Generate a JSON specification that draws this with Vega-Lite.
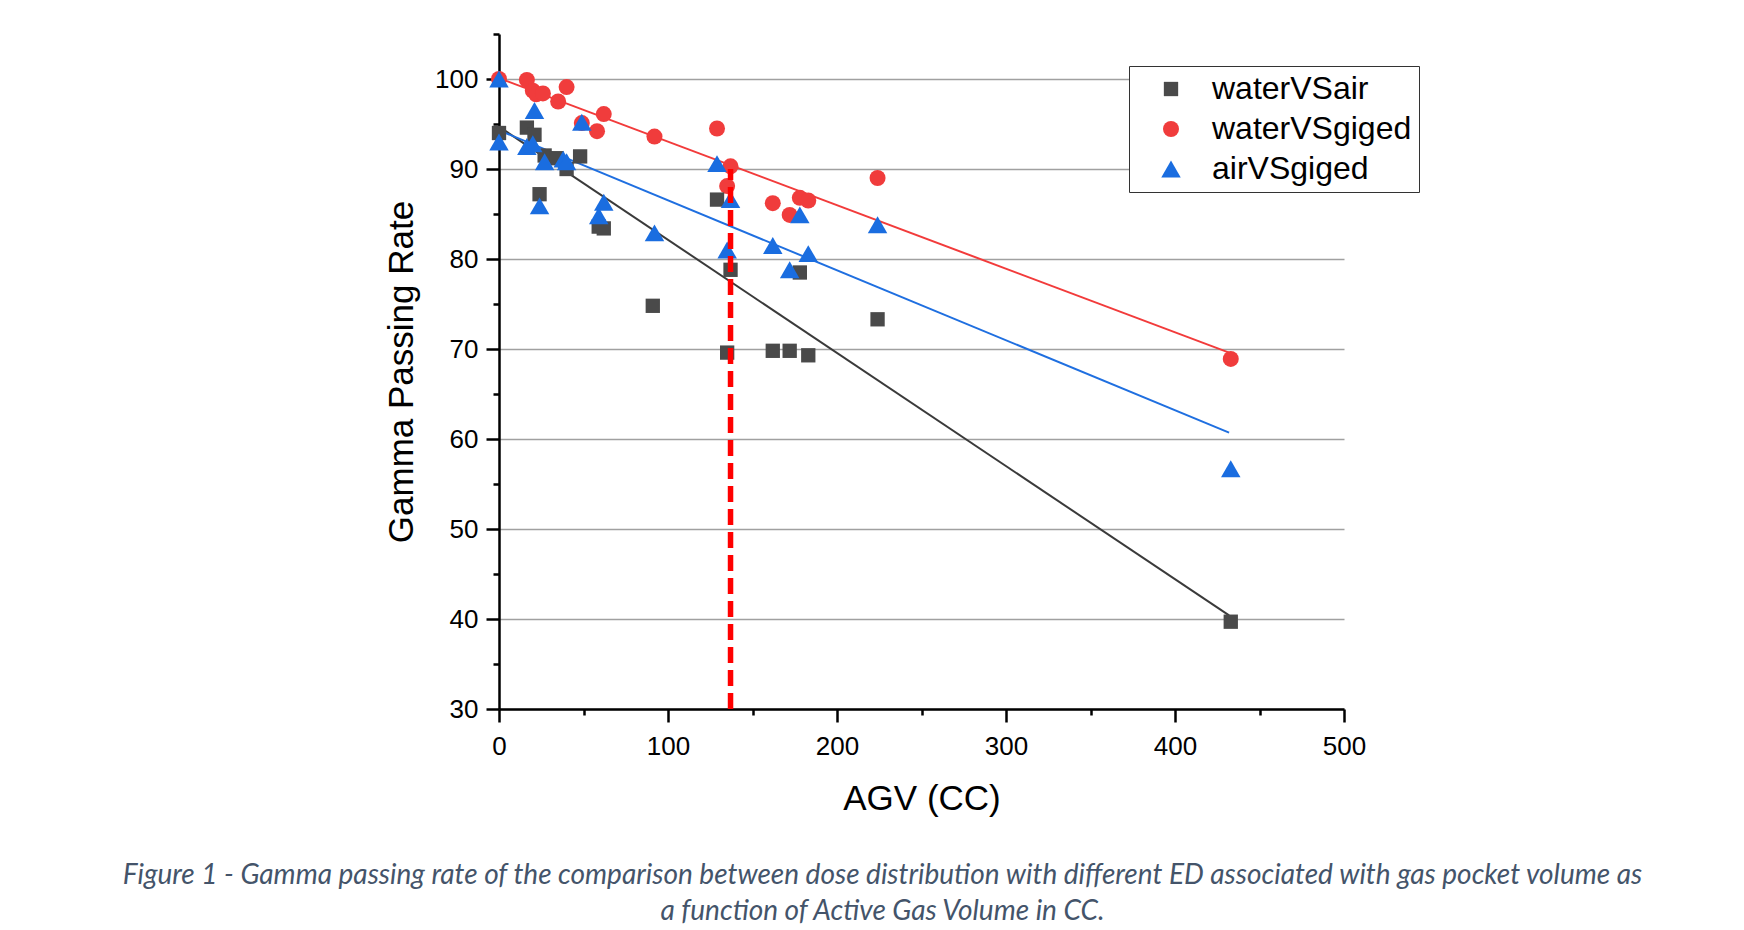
{
  "$schema": "https://vega.github.io/schema/vega-lite/v6.json",
  "autosize": {"type": "none"},
  "padding": {"left": 499, "top": 34, "right": 400, "bottom": 221},
  "width": 845,
  "height": 675,
  "background": "white",
  "config": {
    "view": {"stroke": null},
    "font": "Liberation Sans"
  },
  "title": {
    "text": [
      "Figure 1 - Gamma passing rate of the comparison between dose distribution with different ED associated with gas pocket volume as",
      "a function of Active Gas Volume in CC."
    ],
    "orient": "bottom",
    "anchor": "middle",
    "frame": "group",
    "dx": -39,
    "offset": 46,
    "font": "Lato",
    "fontStyle": "italic",
    "fontWeight": "normal",
    "fontSize": 28,
    "lineHeight": 36,
    "color": "#44546a"
  },
  "datasets": {
    "points": [
      {"series": "waterVSair", "agv": 0, "gpr": 94.0},
      {"series": "waterVSair", "agv": 16.5, "gpr": 94.6},
      {"series": "waterVSair", "agv": 21, "gpr": 93.8},
      {"series": "waterVSair", "agv": 24, "gpr": 87.2},
      {"series": "waterVSair", "agv": 27, "gpr": 91.5},
      {"series": "waterVSair", "agv": 34, "gpr": 91.2},
      {"series": "waterVSair", "agv": 40, "gpr": 90.0},
      {"series": "waterVSair", "agv": 48, "gpr": 91.4},
      {"series": "waterVSair", "agv": 59, "gpr": 83.6},
      {"series": "waterVSair", "agv": 62, "gpr": 83.4},
      {"series": "waterVSair", "agv": 91, "gpr": 74.8},
      {"series": "waterVSair", "agv": 129, "gpr": 86.6},
      {"series": "waterVSair", "agv": 135, "gpr": 69.6},
      {"series": "waterVSair", "agv": 137, "gpr": 78.8},
      {"series": "waterVSair", "agv": 162, "gpr": 69.8},
      {"series": "waterVSair", "agv": 172, "gpr": 69.8},
      {"series": "waterVSair", "agv": 178, "gpr": 78.5},
      {"series": "waterVSair", "agv": 183, "gpr": 69.3},
      {"series": "waterVSair", "agv": 224, "gpr": 73.3},
      {"series": "waterVSair", "agv": 433, "gpr": 39.7},
      {"series": "waterVSgiged", "agv": 0, "gpr": 100.0},
      {"series": "waterVSgiged", "agv": 16.5, "gpr": 99.9},
      {"series": "waterVSgiged", "agv": 20, "gpr": 98.7},
      {"series": "waterVSgiged", "agv": 22, "gpr": 98.3},
      {"series": "waterVSgiged", "agv": 26, "gpr": 98.4},
      {"series": "waterVSgiged", "agv": 35, "gpr": 97.5},
      {"series": "waterVSgiged", "agv": 40, "gpr": 99.1},
      {"series": "waterVSgiged", "agv": 49, "gpr": 95.1},
      {"series": "waterVSgiged", "agv": 58, "gpr": 94.2},
      {"series": "waterVSgiged", "agv": 62, "gpr": 96.1},
      {"series": "waterVSgiged", "agv": 92, "gpr": 93.6},
      {"series": "waterVSgiged", "agv": 129, "gpr": 94.5},
      {"series": "waterVSgiged", "agv": 135, "gpr": 88.1},
      {"series": "waterVSgiged", "agv": 137, "gpr": 90.3},
      {"series": "waterVSgiged", "agv": 162, "gpr": 86.2},
      {"series": "waterVSgiged", "agv": 172, "gpr": 84.9},
      {"series": "waterVSgiged", "agv": 178, "gpr": 86.8},
      {"series": "waterVSgiged", "agv": 183, "gpr": 86.5},
      {"series": "waterVSgiged", "agv": 224, "gpr": 89.0},
      {"series": "waterVSgiged", "agv": 433, "gpr": 68.9},
      {"series": "airVSgiged", "agv": 0, "gpr": 100.0},
      {"series": "airVSgiged", "agv": 0, "gpr": 93.0},
      {"series": "airVSgiged", "agv": 16.5, "gpr": 92.5},
      {"series": "airVSgiged", "agv": 20, "gpr": 92.8},
      {"series": "airVSgiged", "agv": 21, "gpr": 96.5},
      {"series": "airVSgiged", "agv": 24, "gpr": 85.9},
      {"series": "airVSgiged", "agv": 27, "gpr": 90.8},
      {"series": "airVSgiged", "agv": 38, "gpr": 91.1},
      {"series": "airVSgiged", "agv": 40, "gpr": 90.8},
      {"series": "airVSgiged", "agv": 49, "gpr": 95.2},
      {"series": "airVSgiged", "agv": 59, "gpr": 84.8},
      {"series": "airVSgiged", "agv": 62, "gpr": 86.3},
      {"series": "airVSgiged", "agv": 92, "gpr": 82.9},
      {"series": "airVSgiged", "agv": 129, "gpr": 90.6},
      {"series": "airVSgiged", "agv": 135, "gpr": 81.0},
      {"series": "airVSgiged", "agv": 137, "gpr": 86.6},
      {"series": "airVSgiged", "agv": 162, "gpr": 81.5},
      {"series": "airVSgiged", "agv": 172, "gpr": 78.8},
      {"series": "airVSgiged", "agv": 178, "gpr": 84.9},
      {"series": "airVSgiged", "agv": 183, "gpr": 80.6},
      {"series": "airVSgiged", "agv": 224, "gpr": 83.8},
      {"series": "airVSgiged", "agv": 433, "gpr": 56.7}
    ],
    "fits": [
      {"series": "waterVSair", "agv": 0, "gpr": 94.7},
      {"series": "waterVSair", "agv": 432, "gpr": 40.4},
      {"series": "waterVSgiged", "agv": 0, "gpr": 100.1},
      {"series": "waterVSgiged", "agv": 432, "gpr": 69.6},
      {"series": "airVSgiged", "agv": 0, "gpr": 94.3},
      {"series": "airVSgiged", "agv": 432, "gpr": 60.7}
    ],
    "cutoff": [
      {"agv": 137, "low": 30, "high": 90}
    ]
  },
  "resolve": {"axis": {"x": "independent", "y": "independent"}},
  "layer": [
    {
      "data": {"name": "cutoff"},
      "mark": {"type": "point", "opacity": 0},
      "encoding": {
        "x": {
          "field": "agv", "type": "quantitative",
          "scale": {"domain": [0, 500], "nice": false},
          "axis": {
            "orient": "bottom", "values": [50, 150, 250, 350, 450],
            "labels": false, "domain": false, "grid": false, "title": null,
            "tickSize": 6, "tickWidth": 2.5, "tickColor": "black"
          }
        },
        "y": {
          "field": "low", "type": "quantitative",
          "scale": {"domain": [30, 105], "nice": false, "zero": false},
          "axis": {
            "orient": "left", "values": [35, 45, 55, 65, 75, 85, 95, 105],
            "labels": false, "domain": false, "grid": false, "title": null,
            "tickSize": 6, "tickWidth": 2.5, "tickColor": "black"
          }
        }
      }
    },
    {
      "data": {"name": "fits"},
      "transform": [{"filter": "datum.series == 'waterVSair'"}],
      "mark": {"type": "line", "strokeWidth": 2, "color": "#3a3a3a"},
      "encoding": {
        "x": {"field": "agv", "type": "quantitative", "axis": null},
        "y": {"field": "gpr", "type": "quantitative", "axis": null}
      }
    },
    {
      "data": {"name": "fits"},
      "transform": [{"filter": "datum.series == 'waterVSgiged'"}],
      "mark": {"type": "line", "strokeWidth": 2, "color": "#f23b3b"},
      "encoding": {
        "x": {"field": "agv", "type": "quantitative", "axis": null},
        "y": {"field": "gpr", "type": "quantitative", "axis": null}
      }
    },
    {
      "data": {"name": "fits"},
      "transform": [{"filter": "datum.series == 'airVSgiged'"}],
      "mark": {"type": "line", "strokeWidth": 2, "color": "#1f6fe0"},
      "encoding": {
        "x": {"field": "agv", "type": "quantitative", "axis": null},
        "y": {"field": "gpr", "type": "quantitative", "axis": null}
      }
    },
    {
      "data": {"name": "points"},
      "mark": {"type": "point", "filled": true, "opacity": 1},
      "encoding": {
        "x": {
          "field": "agv", "type": "quantitative", "title": "AGV (CC)",
          "axis": {
            "orient": "bottom", "values": [0, 100, 200, 300, 400, 500],
            "grid": false, "domainColor": "black", "domainWidth": 2.5,
            "tickColor": "black", "tickWidth": 2.5, "tickSize": 13,
            "labelFontSize": 26, "labelColor": "black", "labelPadding": 11,
            "labelFlush": false,
            "titleFontSize": 35, "titleFontWeight": "normal", "titleColor": "black",
            "titlePadding": 22
          }
        },
        "y": {
          "field": "gpr", "type": "quantitative", "title": "Gamma Passing Rate",
          "axis": {
            "orient": "left", "values": [30, 40, 50, 60, 70, 80, 90, 100],
            "grid": true, "gridColor": "#a0a0a0", "gridWidth": 1.5,
            "domainColor": "black", "domainWidth": 2.5,
            "tickColor": "black", "tickWidth": 2.5, "tickSize": 13,
            "labelFontSize": 26, "labelColor": "black", "labelPadding": 8,
            "labelFlush": false,
            "titleFontSize": 35, "titleFontWeight": "normal", "titleColor": "black",
            "titlePadding": 15
          }
        },
        "color": {
          "field": "series", "type": "nominal", "title": null,
          "scale": {
            "domain": ["waterVSair", "waterVSgiged", "airVSgiged"],
            "range": ["#4a4a4a", "#f03c3c", "#1a6de0"]
          },
          "legend": {
            "orient": "none", "legendX": 630, "legendY": 32,
            "strokeColor": "#333333", "fillColor": "white", "padding": 7,
            "symbolOffset": 19, "labelOffset": 25, "rowPadding": 8,
            "labelFontSize": 32, "labelColor": "black", "labelLimit": 400,
            "symbolSize": 280, "symbolStrokeWidth": 0
          }
        },
        "shape": {
          "field": "series", "type": "nominal", "title": null,
          "scale": {
            "domain": ["waterVSair", "waterVSgiged", "airVSgiged"],
            "range": ["square", "circle", "triangle-up"]
          },
          "legend": {
            "orient": "none", "legendX": 630, "legendY": 32,
            "strokeColor": "#333333", "fillColor": "white", "padding": 7,
            "symbolOffset": 19, "labelOffset": 25, "rowPadding": 8,
            "labelFontSize": 32, "labelColor": "black", "labelLimit": 400,
            "symbolSize": 280, "symbolStrokeWidth": 0
          }
        },
        "size": {
          "field": "series", "type": "nominal", "legend": null,
          "scale": {
            "type": "ordinal",
            "domain": ["waterVSair", "waterVSgiged", "airVSgiged"],
            "range": [205, 256, 380]
          }
        },
        "order": {"field": "series", "sort": "descending"}
      }
    },
    {
      "data": {"name": "cutoff"},
      "mark": {"type": "rule", "color": "#ff0000", "strokeWidth": 5.5, "strokeDash": [16, 7]},
      "encoding": {
        "x": {"field": "agv", "type": "quantitative", "axis": null},
        "y": {"field": "low", "type": "quantitative", "axis": null},
        "y2": {"field": "high"}
      }
    }
  ]
}
